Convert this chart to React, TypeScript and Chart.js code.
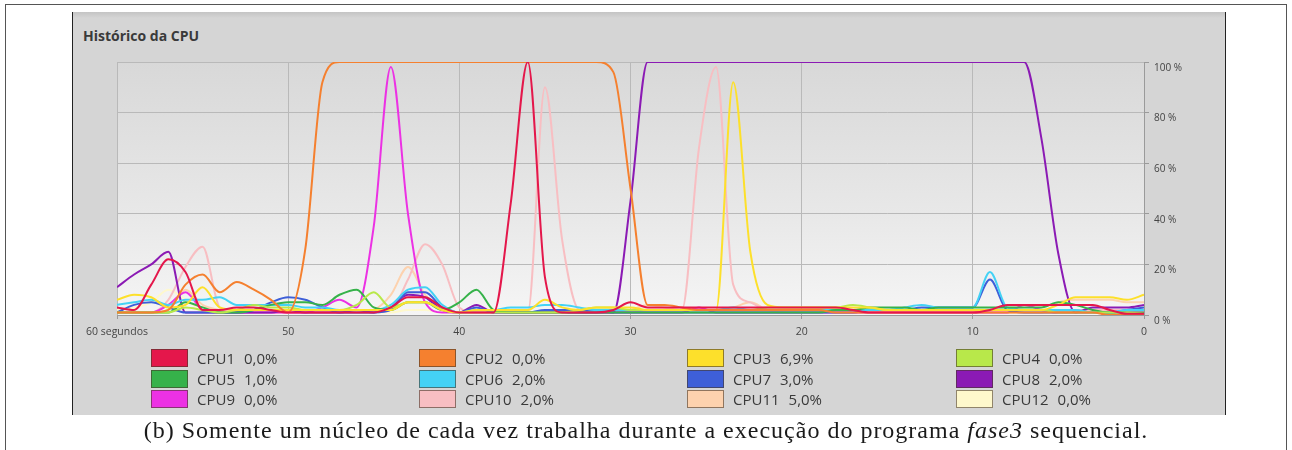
import React, { useEffect, useRef } from "react";
import { Chart, registerables } from "chart.js";

Chart.register(...registerables);

// seconds ago, left (60) to right (0)
const TIMES = [
  60, 59, 58, 57, 56, 55, 54, 53, 52, 51,
  50, 49, 48, 47, 46, 45, 44, 43, 42, 41,
  40, 39, 38, 37, 36, 35, 34, 33, 32, 31,
  30, 29, 28, 27, 26, 25, 24, 23, 22, 21,
  20, 19, 18, 17, 16, 15, 14, 13, 12, 11,
  10, 9, 8, 7, 6, 5, 4, 3, 2, 1, 0,
];

const X_TICKS = [60, 50, 40, 30, 20, 10, 0];
const X_FIRST_LABEL = "60 segundos";
const Y_TICKS = [0, 20, 40, 60, 80, 100];

const CPU_NAMES = ["CPU1", "CPU2", "CPU3", "CPU4", "CPU5", "CPU6", "CPU7", "CPU8", "CPU9", "CPU10", "CPU11", "CPU12"];
const CPU_CURRENT = ["0,0%", "0,0%", "6,9%", "0,0%", "1,0%", "2,0%", "3,0%", "2,0%", "0,0%", "2,0%", "5,0%", "0,0%"];
const CPU_COLORS = [
  "#e4174b", "#f5802f", "#fde02b", "#b8e84a",
  "#36b24a", "#44d2f5", "#3e5fd8", "#8b1ab4",
  "#ec31e4", "#f8bec2", "#fdd2ae", "#fef8cc",
];

const CPU1 = [
  3, 2, 12, 22, 17, 2, 2, 3, 3, 2,
  1, 1, 1, 1, 1, 1, 3, 7, 7, 3,
  1, 1, 1, 44, 100, 15, 1, 1, 1, 2,
  5, 3, 3, 3, 3, 3, 3, 3, 3, 3,
  3, 3, 3, 2, 1, 1, 1, 1, 1, 1,
  1, 2, 4, 4, 4, 4, 4, 4, 2, 0.5, 0.5,
];
const CPU2 = [
  1, 1, 1, 2, 12, 16, 9, 13, 10, 6,
  1, 26, 92, 100, 100, 100, 100, 100, 100, 100,
  100, 100, 100, 100, 100, 100, 100, 100, 100, 96,
  50, 4, 4, 3, 2, 2, 2, 2, 2, 2,
  2, 2, 1, 1, 1, 1, 1, 1, 1, 1,
  1, 1, 1, 1, 1, 1, 1, 1, 0, 0, 0,
];
const CPU3 = [
  6, 8, 7, 3, 4, 11, 3, 2, 2, 2,
  2, 2, 2, 2, 2, 2, 2, 5, 5, 2,
  1, 2, 2, 2, 2, 6, 3, 2, 3, 3,
  3, 2, 2, 2, 2, 2, 92, 25, 4, 3,
  3, 3, 3, 3, 3, 2, 2, 2, 2, 2,
  2, 2, 2, 2, 2, 4, 7, 7, 7, 6, 8,
];
const CPU4 = [
  1, 1, 1, 1, 3, 2, 1, 2, 4, 3,
  3, 2, 2, 2, 4, 9, 3, 5, 5, 2,
  1, 1, 1, 1, 1, 1, 1, 2, 3, 3,
  2, 2, 2, 2, 2, 2, 2, 2, 3, 3,
  3, 3, 3, 4, 3, 2, 2, 2, 2, 2,
  2, 2, 2, 2, 2, 1, 1, 1, 1, 1, 0.5,
];
const CPU5 = [
  1, 1, 1, 1, 5, 3, 1, 1, 2, 4,
  5, 5, 4, 8, 10, 3, 2, 5, 5, 2,
  5, 10, 2, 1, 1, 1, 1, 1, 1, 1,
  1, 1, 1, 1, 1, 1, 1, 1, 1, 1,
  1, 1, 2, 2, 3, 3, 3, 2, 3, 3,
  3, 3, 3, 3, 3, 5, 4, 2, 1, 1, 1,
];
const CPU6 = [
  4, 5, 6, 4, 6, 6, 7, 4, 4, 4,
  4, 3, 3, 2, 2, 2, 4, 10, 11, 4,
  1, 2, 2, 3, 3, 4, 4, 3, 2, 2,
  2, 2, 2, 2, 2, 2, 3, 2, 2, 2,
  2, 2, 2, 2, 2, 2, 3, 4, 3, 3,
  3, 17, 3, 2, 2, 2, 2, 1, 1, 2, 2,
];
const CPU7 = [
  1, 4, 5, 3, 1, 1, 1, 1, 2, 5,
  7, 6, 3, 1, 1, 1, 2, 9, 9, 3,
  1, 3, 1, 1, 1, 2, 2, 2, 2, 1,
  1, 1, 1, 1, 1, 1, 1, 1, 1, 1,
  1, 1, 1, 1, 2, 2, 2, 3, 3, 3,
  3, 14, 2, 1, 1, 1, 1, 1, 1, 2, 3,
];
const CPU8 = [
  11, 16, 20, 25, 1, 1, 1, 1, 1, 1,
  2, 1, 1, 1, 2, 1, 3, 8, 7, 2,
  1, 4, 1, 1, 1, 1, 1, 1, 1, 1,
  45, 100, 100, 100, 100, 100, 100, 100, 100, 100,
  100, 100, 100, 100, 100, 100, 100, 100, 100, 100,
  100, 100, 100, 100, 70, 24, 1, 3, 3, 3, 4,
];
const CPU9 = [
  1, 1, 1, 4, 9, 2, 1, 1, 1, 1,
  1, 1, 3, 6, 3, 35, 98, 40, 5, 1,
  1, 1, 1, 1, 1, 1, 1, 1, 1, 1,
  1, 1, 1, 1, 3, 1, 1, 1, 1, 1,
  1, 1, 1, 1, 1, 1, 1, 1, 1, 1,
  1, 1, 1, 4, 2, 1, 1, 1, 1, 1, 1,
];
const CPU10 = [
  1, 1, 1, 6, 19, 27, 3, 1, 1, 1,
  1, 1, 1, 1, 1, 1, 2, 14, 28, 20,
  3, 1, 1, 1, 1, 90, 30, 2, 1, 1,
  1, 2, 2, 2, 66, 98, 12, 5, 2, 2,
  2, 2, 2, 2, 2, 2, 2, 2, 2, 2,
  2, 2, 2, 2, 2, 2, 2, 2, 2, 2, 2,
];
const CPU11 = [
  1, 1, 1, 2, 10, 4, 2, 1, 1, 1,
  1, 1, 1, 1, 1, 2, 8, 19, 8, 2,
  1, 1, 1, 1, 1, 1, 1, 1, 1, 1,
  2, 4, 3, 2, 2, 2, 3, 5, 2, 1,
  1, 1, 1, 1, 1, 1, 1, 1, 1, 1,
  1, 1, 1, 1, 1, 5, 6, 6, 6, 5, 5,
];
const CPU12 = [
  2, 3, 5, 10, 6, 2, 1, 1, 1, 1,
  1, 2, 2, 2, 1, 1, 1, 2, 2, 1,
  1, 1, 1, 1, 1, 1, 1, 1, 1, 1,
  1, 1, 1, 1, 1, 1, 1, 1, 1, 1,
  1, 1, 1, 1, 1, 1, 1, 1, 1, 1,
  1, 1, 1, 1, 1, 1, 1, 1, 1, 1, 1,
];

const CPU_SERIES = [CPU1, CPU2, CPU3, CPU4, CPU5, CPU6, CPU7, CPU8, CPU9, CPU10, CPU11, CPU12];

const UI_FONT = "'Open Sans', 'Noto Sans', sans-serif";

const plotBackground = {
  id: "plotBackground",
  beforeDraw(chart: any) {
    const { ctx, chartArea: a } = chart;
    if (!a) return;
    const g = ctx.createLinearGradient(0, a.top, 0, a.bottom);
    g.addColorStop(0, "#d8d8d8");
    g.addColorStop(0.6, "#e8e8e8");
    g.addColorStop(1, "#f5f5f5");
    ctx.save();
    ctx.fillStyle = g;
    ctx.fillRect(a.left, a.top, a.right - a.left, a.bottom - a.top);
    ctx.restore();
  },
};

function CpuChart() {
  const ref = useRef<HTMLCanvasElement | null>(null);
  useEffect(() => {
    if (!ref.current) return;
    const chart = new Chart(ref.current, {
      type: "line",
      data: {
        datasets: CPU_SERIES.map((vals, i) => ({
          label: CPU_NAMES[i],
          data: TIMES.map((t, k) => ({ x: t, y: vals[k] })),
          borderColor: CPU_COLORS[i],
          backgroundColor: CPU_COLORS[i],
          borderWidth: 2,
          pointRadius: 0,
          tension: 0.4,
          cubicInterpolationMode: "monotone" as const,
          fill: false,
        })),
      },
      options: {
        animation: false,
        responsive: false,
        devicePixelRatio: 1,
        events: [],
        layout: { padding: { left: 117, top: 62, right: 98, bottom: 111 } },
        plugins: { legend: { display: false }, tooltip: { enabled: false }, title: { display: false } },
        scales: {
          x: {
            type: "linear",
            min: 0,
            max: 60,
            reverse: true,
            position: "bottom",
            afterBuildTicks: (s: any) => {
              s.ticks = X_TICKS.map((v) => ({ value: v }));
            },
            afterFit: (s: any) => {
              s.height = 24;
            },
            ticks: {
              autoSkip: false,
              maxRotation: 0,
              padding: 7,
              color: "#444444",
              font: { family: UI_FONT, size: 10.5 },
              callback: (v: any) => (v === 60 ? X_FIRST_LABEL : String(v)),
            },
            grid: { color: "#b9b9b9", lineWidth: 1, tickLength: 4, tickColor: "#9a9a9a" },
            border: { display: true, color: "#9a9a9a" },
          },
          y: {
            type: "linear",
            position: "right",
            min: 0,
            max: 100,
            afterBuildTicks: (s: any) => {
              s.ticks = Y_TICKS.map((v) => ({ value: v }));
            },
            afterFit: (s: any) => {
              s.width = 50;
            },
            ticks: {
              padding: 5,
              labelOffset: 6,
              color: "#444444",
              font: { family: UI_FONT, size: 10 },
              callback: (v: any) => v + " %",
            },
            grid: { color: "#b9b9b9", lineWidth: 1, tickLength: 5, tickColor: "#9a9a9a" },
            border: { display: true, color: "#9a9a9a" },
          },
        },
      },
      plugins: [plotBackground],
    });
    return () => chart.destroy();
  }, []);
  return (
    <canvas
      ref={ref}
      width={1292}
      height={450}
      style={{ position: "absolute", left: 0, top: 0, width: 1292, height: 450 }}
    />
  );
}

const LEGEND_COL_X = [151, 419, 687, 956];
const LEGEND_ROW_Y = [349, 370, 390];

export default function App() {
  return (
    <div style={{ position: "absolute", left: 0, top: 0, width: 1292, height: 450, background: "#ffffff", overflow: "hidden" }}>
      {/* document frame */}
      <div style={{ position: "absolute", left: 5, top: 4, width: 1280, height: 460, borderTop: "1.5px solid #555", borderLeft: "1.5px solid #555", borderRight: "1.5px solid #555" }} />
      {/* screenshot panel */}
      <div
        style={{
          position: "absolute",
          left: 72,
          top: 12,
          width: 1152,
          height: 403,
          background: "linear-gradient(#c4c4c4 0px, #d5d5d5 6px, #d5d5d5 100%)",
          borderLeft: "1.5px solid #222",
          borderRight: "1.5px solid #222",
        }}
      />
      <div
        style={{
          position: "absolute",
          left: 83,
          top: 26,
          fontFamily: UI_FONT,
          fontWeight: 700,
          fontSize: 14,
          color: "#3a3a3a",
          whiteSpace: "nowrap",
        }}
      >
        Histórico da CPU
      </div>
      <CpuChart />
      {CPU_NAMES.map((name, i) => {
        const col = i % 4;
        const row = Math.floor(i / 4);
        return (
          <div key={name} style={{ position: "absolute", left: LEGEND_COL_X[col], top: LEGEND_ROW_Y[row], height: 18, display: "flex", alignItems: "center" }}>
            <div style={{ width: 35, height: 16, background: CPU_COLORS[i], border: "1px solid rgba(70,55,40,0.6)" }} />
            <span style={{ marginLeft: 9, fontFamily: UI_FONT, fontSize: 15, color: "#3a3a3a", whiteSpace: "pre" }}>
              {name}
              <span style={{ marginLeft: 9 }}>{CPU_CURRENT[i]}</span>
            </span>
          </div>
        );
      })}
      <div
        style={{
          position: "absolute",
          left: 0,
          top: 417,
          width: 1292,
          textAlign: "center",
          fontFamily: "'Liberation Serif', 'DejaVu Serif', serif",
          fontSize: 24,
          letterSpacing: 1,
          color: "#1a1a1a",
          whiteSpace: "nowrap",
        }}
      >
        (b) Somente um núcleo de cada vez trabalha durante a execução do programa <i>fase3</i> sequencial.
      </div>
    </div>
  );
}
